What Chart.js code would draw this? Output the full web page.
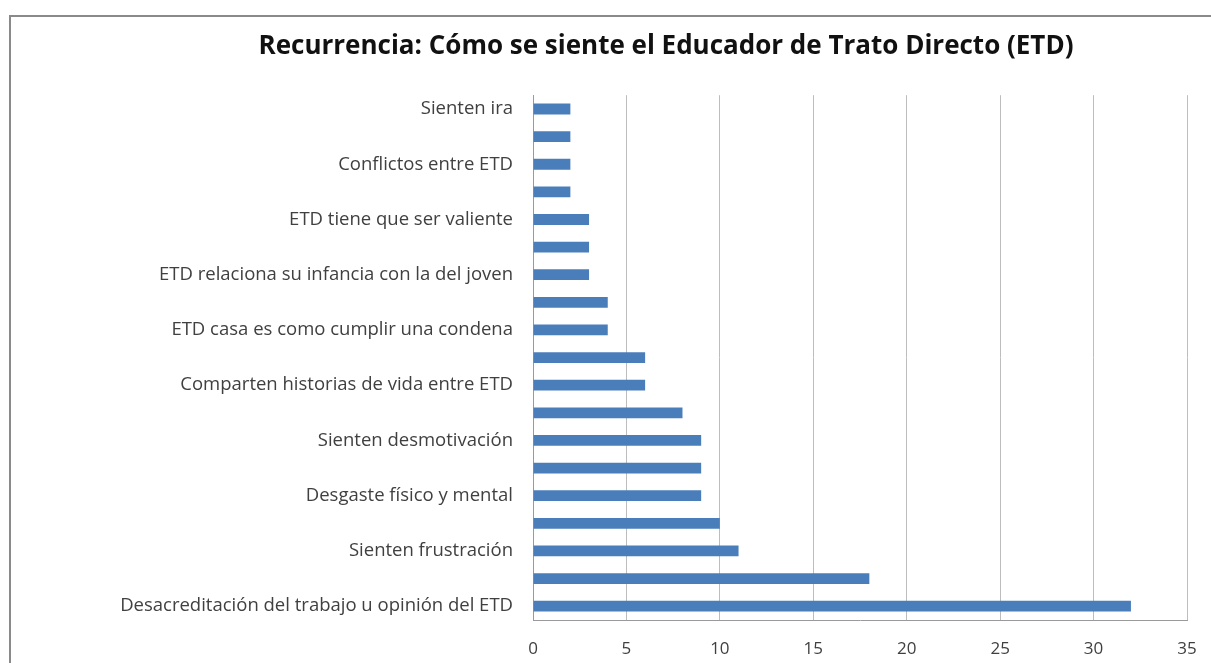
<!DOCTYPE html>
<html>
<head>
<meta charset="utf-8">
<script src="https://cdn.jsdelivr.net/npm/chart.js@4"></script>
<style>
  html, body { margin: 0; padding: 0; background: #ffffff; }
  #wrap { position: relative; width: 1211px; height: 663px; overflow: hidden; }
  #frame { position: absolute; left: 9px; top: 15px; width: 1220px; height: 660px; border: 2px solid #8a8a8a; box-sizing: border-box; pointer-events: none; }
  canvas { position: absolute; left: 0; top: 0; }
</style>
</head>
<body>
<div id="wrap">
  <canvas id="c" width="1211" height="663"></canvas>
  <div id="frame"></div>
</div>
<script>
const titleText = "Recurrencia: Cómo se siente el Educador de Trato Directo (ETD)";
const categories = [
  "Sienten ira",
  "",
  "Conflictos entre ETD",
  "",
  "ETD tiene que ser valiente",
  "",
  "ETD relaciona su infancia con la del joven",
  "",
  "ETD casa es como cumplir una condena",
  "",
  "Comparten historias de vida entre ETD",
  "",
  "Sienten desmotivación",
  "",
  "Desgaste físico y mental",
  "",
  "Sienten frustración",
  "",
  "Desacreditación del trabajo u opinión del ETD"
];
const recurrence = [2, 2, 2, 2, 3, 3, 3, 4, 4, 6, 6, 8, 9, 9, 9, 10, 11, 18, 32];
const xTicks = [0, 5, 10, 15, 20, 25, 30, 35];

const FONT = "'Open Sans', 'DejaVu Sans', sans-serif";

// let the long category labels extend left of the y scale box (no clipping)
const unclipLabels = {
  id: 'unclipLabels',
  beforeDraw(chart) { chart.scales.y.left = 0; }
};

new Chart(document.getElementById('c'), {
  type: 'bar',
  data: {
    labels: categories,
    datasets: [{
      data: recurrence,
      backgroundColor: '#4a7ebb',
      borderWidth: 0,
      barPercentage: 0.39,
      categoryPercentage: 1.0
    }]
  },
  plugins: [unclipLabels],
  options: {
    indexAxis: 'y',
    responsive: false,
    animation: false,
    layout: { padding: { left: 145, right: 24, top: 0, bottom: 0 } },
    plugins: {
      legend: { display: false },
      tooltip: { enabled: false },
      title: {
        display: true,
        text: titleText,
        color: '#111111',
        font: { family: FONT, size: 26, weight: 'bold', lineHeight: 1.2 },
        padding: { top: 31, bottom: 33 }
      }
    },
    scales: {
      x: {
        min: 0,
        max: 35,
        afterBuildTicks: (s) => { s.ticks = xTicks.map(v => ({ value: v })); },
        grid: { color: '#bdbdbd', lineWidth: 1, drawTicks: false },
        border: { display: true, color: '#9a9a9a', width: 1 },
        ticks: { color: '#404040', font: { family: FONT, size: 17 }, padding: 19 },
        afterFit: (s) => { s.height = 43; s.paddingRight = 0; s.paddingLeft = 0; }
      },
      y: {
        grid: { display: false, drawTicks: false },
        border: { display: true, color: '#9a9a9a', width: 1 },
        ticks: { autoSkip: false, color: '#404040', font: { family: FONT, size: 18.5 }, padding: 20 },
        afterFit: (s) => { s.width = 388; }
      }
    }
  }
});
</script>
</body>
</html>
